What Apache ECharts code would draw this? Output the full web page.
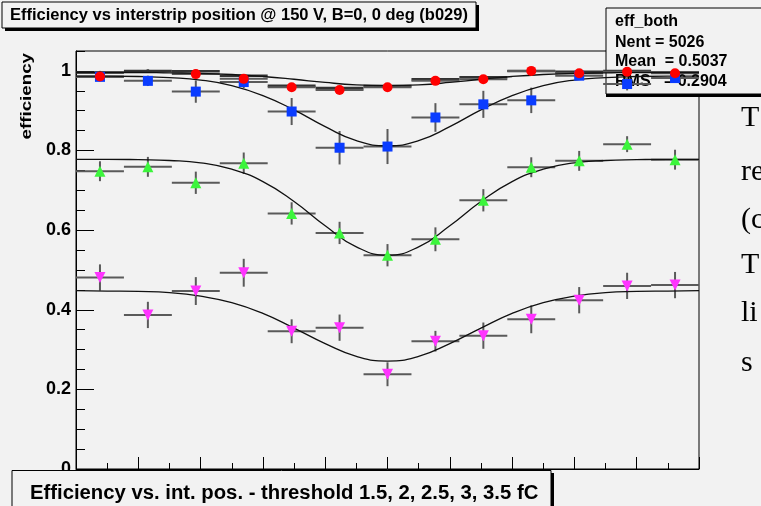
<!DOCTYPE html>
<html>
<head>
<meta charset="utf-8">
<script src="https://cdn.jsdelivr.net/npm/echarts@6/dist/echarts.min.js"></script>
<style>
  html, body { margin: 0; padding: 0; background: #f2f2f2; }
  #chart { width: 761px; height: 506px; }
</style>
</head>
<body>
<div id="chart"></div>
<script>
// 13 bins across the interstrip position 0..1
const nBins = 13
const binCenters = Array.from({ length: nBins }, (_, i) => (i + 0.5) / nBins)

// efficiency per bin, one array per threshold
const eff15 = [0.996, 1.0, 0.999, 0.988, 0.963, 0.957, 0.962, 0.979, 0.984, 1.0, 0.998, 1.0, 0.996]
const eff2 = [0.986, null, 0.992, 0.980, 0.959, 0.952, 0.959, 0.975, 0.979, 1.0, 0.994, 0.998, 0.994]
const eff25 = [0.985, 0.975, 0.948, 0.972, 0.898, 0.807, 0.810, 0.883, 0.916, 0.926, 0.988, 0.967, 0.982]
const eff3 = [0.748, 0.759, 0.719, 0.768, 0.642, 0.593, 0.537, 0.577, 0.675, 0.758, 0.774, 0.816, 0.777]
const eff35 = [0.481, 0.387, 0.447, 0.493, 0.346, 0.355, 0.238, 0.321, 0.335, 0.376, 0.424, 0.460, 0.462]

// vertical error per bin
const err15 = [0.004, 0.004, 0.004, 0.004, 0.004, 0.004, 0.004, 0.004, 0.004, 0.004, 0.004, 0.004, 0.004]
const err2 = [0.006, 0.006, 0.006, 0.006, 0.006, 0.006, 0.006, 0.006, 0.006, 0.006, 0.006, 0.006, 0.006]
const err25 = [0.008, 0.013, 0.028, 0.015, 0.034, 0.042, 0.044, 0.036, 0.034, 0.032, 0.010, 0.016, 0.010]
const err3 = [0.025, 0.025, 0.028, 0.027, 0.028, 0.028, 0.028, 0.030, 0.028, 0.025, 0.025, 0.020, 0.025]
const err35 = [0.033, 0.033, 0.035, 0.035, 0.030, 0.033, 0.030, 0.026, 0.033, 0.035, 0.033, 0.033, 0.033]

const fitX = [0, 0.05, 0.1, 0.15, 0.2, 0.25, 0.3, 0.35, 0.4, 0.45, 0.5,
  0.55, 0.6, 0.65, 0.7, 0.75, 0.8, 0.85, 0.9, 0.95, 1]
const fit2 = [0.996, 0.996, 0.996, 0.995, 0.994, 0.991, 0.986, 0.979, 0.971, 0.965, 0.963,
  0.965, 0.971, 0.979, 0.986, 0.991, 0.994, 0.995, 0.996, 0.996, 0.996]
const fit25 = [0.987, 0.987, 0.986, 0.983, 0.977, 0.963, 0.938, 0.902, 0.860, 0.825, 0.812,
  0.825, 0.860, 0.902, 0.938, 0.963, 0.977, 0.983, 0.986, 0.987, 0.987]
const fit3 = [0.778, 0.778, 0.777, 0.775, 0.769, 0.753, 0.722, 0.672, 0.611, 0.558, 0.537,
  0.558, 0.611, 0.672, 0.722, 0.753, 0.769, 0.775, 0.777, 0.778, 0.778]
const fit35 = [0.448, 0.447, 0.446, 0.443, 0.434, 0.418, 0.391, 0.354, 0.315, 0.283, 0.271,
  0.283, 0.315, 0.354, 0.391, 0.418, 0.434, 0.443, 0.446, 0.447, 0.448]

const yTicks = [0, 0.2, 0.4, 0.6, 0.8, 1]

const font = '"Liberation Sans", Arial, sans-serif'
const serif = '"Liberation Serif", serif'
const bg = '#f2f2f2'

const points = (vals) => vals.map((v, i) => (v == null ? null : [binCenters[i], v]))
  .filter(Boolean)
const withErr = (vals, errs) => vals.map((v, i) => (v == null ? null : [binCenters[i], v, errs[i]]))
  .filter(Boolean)
const curve = (vals) => vals.map((v, i) => [fitX[i], v])

function errorBars (vals, errs, color, width) {
  return {
    type: 'custom',
    z: 3,
    silent: true,
    data: withErr(vals, errs),
    renderItem: (params, api) => {
      const x = api.value(0)
      const y = api.value(1)
      const e = api.value(2)
      const half = 0.5 / nBins
      const l = api.coord([x - half, y])
      const r = api.coord([x + half, y])
      const t = api.coord([x, y + e])
      const b = api.coord([x, y - e])
      const style = { stroke: color, lineWidth: width }
      return {
        type: 'group',
        children: [
          { type: 'line', shape: { x1: l[0], y1: l[1], x2: r[0], y2: r[1] }, style },
          { type: 'line', shape: { x1: t[0], y1: t[1], x2: b[0], y2: b[1] }, style }
        ]
      }
    }
  }
}

function markers (vals, symbol, color, size, rotate) {
  return {
    type: 'scatter',
    z: 5,
    data: points(vals),
    symbol,
    symbolSize: size,
    symbolRotate: rotate || 0,
    itemStyle: { color, opacity: 1 }
  }
}

function fitLine (vals) {
  return {
    type: 'line',
    z: 4,
    data: curve(vals),
    smooth: true,
    symbol: 'none',
    lineStyle: { color: '#111', width: 1.3 }
  }
}

function slideLine (text, y) {
  return {
    type: 'text', z: 1, x: 741, y,
    style: { text, font: `30px ${serif}`, fill: '#000', textVerticalAlign: 'middle' }
  }
}

const chart = echarts.init(document.getElementById('chart'))

chart.setOption({
  backgroundColor: bg,
  animation: false,
  grid: {
    left: 76,
    right: 62,
    top: 51,
    bottom: 37,
    show: true,
    borderColor: '#000',
    borderWidth: 1,
    backgroundColor: 'transparent'
  },
  xAxis: {
    type: 'value',
    min: 0,
    max: 1,
    interval: 0.1,
    axisLine: { show: true, onZero: false, lineStyle: { color: '#000', width: 1 } },
    axisTick: { show: true, inside: true, length: 12, lineStyle: { color: '#000' } },
    minorTick: { show: true, splitNumber: 2, length: 6, lineStyle: { color: '#000' } },
    axisLabel: { show: false },
    splitLine: { show: false }
  },
  yAxis: [
    {
      type: 'value',
      min: 0,
      max: 1.05,
      interval: 0.2,
      axisLine: { show: true, onZero: false, lineStyle: { color: '#000', width: 1 } },
      axisTick: { show: true, inside: true, length: 18, lineStyle: { color: '#000' } },
      axisLabel: {
        color: '#000',
        fontFamily: font,
        fontWeight: 'bold',
        fontSize: 18,
        margin: 5,
        showMaxLabel: false,
        formatter: (v) => (yTicks.some((t) => Math.abs(t - v) < 1e-6) ? String(v) : '')
      },
      splitLine: { show: false }
    },
    {
      type: 'value',
      min: 0,
      max: 1.05,
      interval: 0.05,
      position: 'left',
      axisLine: { show: false },
      axisTick: { show: true, inside: true, length: 9, lineStyle: { color: '#000' } },
      axisLabel: { show: false },
      splitLine: { show: false }
    }
  ],
  graphic: [
    // title box
    { type: 'rect', z: 1, shape: { x: 5, y: 5, width: 474, height: 26 }, style: { fill: '#000' } },
    { type: 'rect', z: 1, shape: { x: 2, y: 2, width: 474, height: 26 }, style: { fill: bg, stroke: '#000', lineWidth: 1 } },
    {
      type: 'text', z: 1, x: 10, y: 15,
      style: {
        text: 'Efficiency vs interstrip position @ 150 V, B=0, 0 deg (b029)',
        font: `bold 16.5px ${font}`, fill: '#000', textVerticalAlign: 'middle'
      }
    },
    // stats box
    { type: 'rect', z: 1, shape: { x: 606, y: 11, width: 200, height: 86 }, style: { fill: '#000' } },
    { type: 'rect', z: 1, shape: { x: 606, y: 8, width: 200, height: 86 }, style: { fill: bg, stroke: '#000', lineWidth: 1 } },
    { type: 'text', z: 1, x: 615, y: 22, style: { text: 'eff_both', font: `bold 16px ${font}`, fill: '#000', textVerticalAlign: 'middle' } },
    { type: 'text', z: 1, x: 615, y: 43, style: { text: 'Nent = 5026', font: `bold 16px ${font}`, fill: '#000', textVerticalAlign: 'middle' } },
    { type: 'text', z: 1, x: 615, y: 62, style: { text: 'Mean  = 0.5037', font: `bold 16px ${font}`, fill: '#000', textVerticalAlign: 'middle' } },
    { type: 'text', z: 1, x: 615, y: 82, style: { text: 'RMS   = 0.2904', font: `bold 16px ${font}`, fill: '#000', textVerticalAlign: 'middle' } },
    // y axis title
    {
      type: 'text', z: 1, x: 27, y: 53, rotation: Math.PI / 2, scaleX: 1.25,
      style: {
        text: 'efficiency', font: `bold 15px ${font}`, fill: '#000',
        textAlign: 'right', textVerticalAlign: 'middle'
      }
    },
    // caption box
    { type: 'rect', z: 10, shape: { x: 15, y: 473, width: 539, height: 40 }, style: { fill: '#000' } },
    { type: 'rect', z: 10, shape: { x: 12, y: 470.5, width: 539, height: 40 }, style: { fill: bg, stroke: '#000', lineWidth: 1 } },
    {
      type: 'text', z: 10, x: 30, y: 493,
      style: {
        text: 'Efficiency vs. int. pos. - threshold 1.5, 2, 2.5, 3, 3.5 fC',
        font: `bold 20.3px ${font}`, fill: '#000', textVerticalAlign: 'middle'
      }
    },
    // slide text on the right, cut by the edge
    slideLine('T', 118),
    slideLine('re', 172),
    slideLine('(c', 220),
    slideLine('T', 265),
    slideLine('li', 313),
    slideLine('s', 363)
  ],
  series: [
    errorBars(eff15, err15, '#333', 2.5),
    errorBars(eff2, err2, '#5a5a5a', 2),
    errorBars(eff25, err25, '#5a5a5a', 2),
    errorBars(eff3, err3, '#5a5a5a', 2),
    errorBars(eff35, err35, '#5a5a5a', 2),
    fitLine(fit2),
    fitLine(fit25),
    fitLine(fit3),
    fitLine(fit35),
    markers(eff25, 'rect', '#0a3cff', 10),
    markers(eff2, 'circle', '#ff0000', 10),
    markers(eff3, 'triangle', '#3cf53c', 11),
    markers(eff35, 'triangle', '#ff33ff', 11, 180)
  ]
})
</script>
</body>
</html>
